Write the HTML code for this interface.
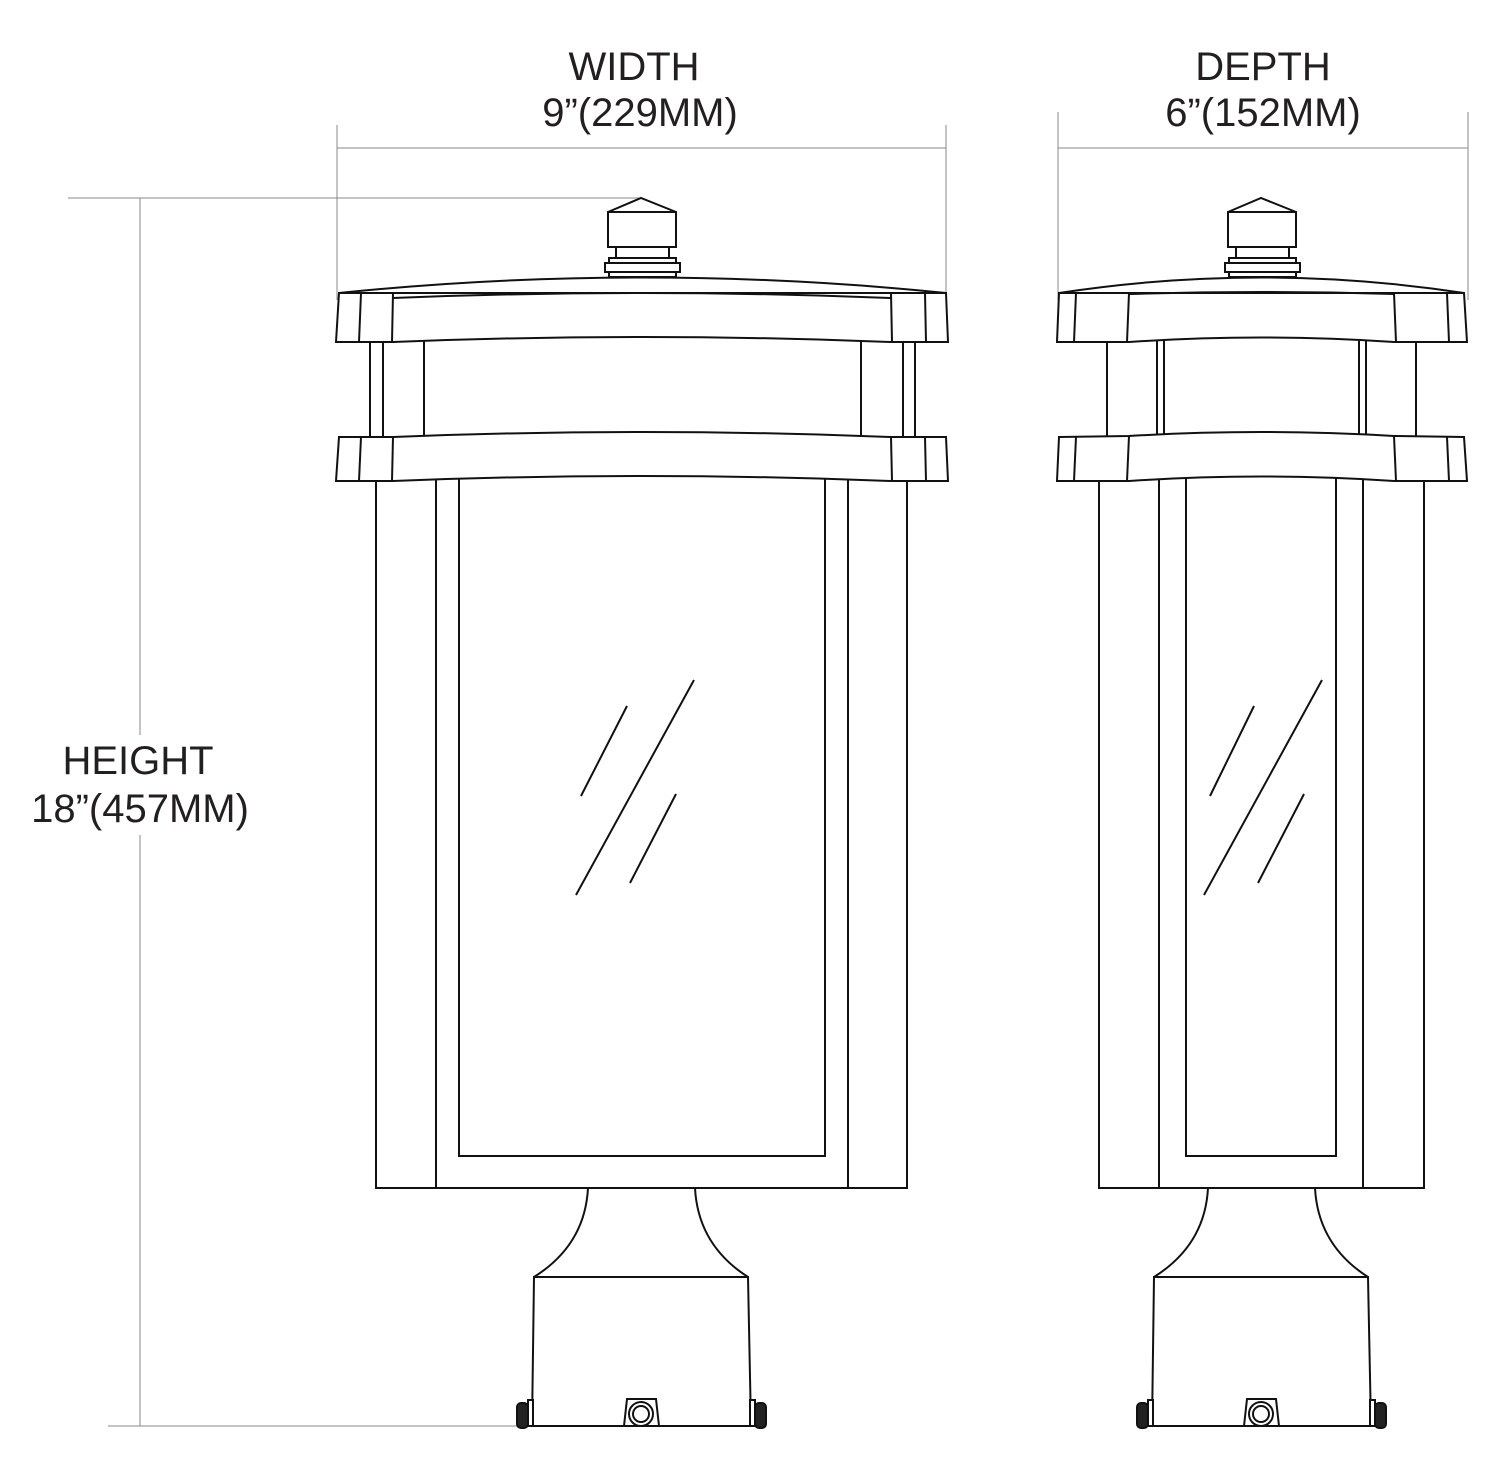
<!DOCTYPE html>
<html><head><meta charset="utf-8"><style>
html,body{margin:0;padding:0;background:#fff;}
svg{display:block;}
text{font-family:"Liberation Sans",sans-serif;font-size:40px;fill:#231f20;text-anchor:middle;}
</style></head><body>
<svg width="1500" height="1480" viewBox="0 0 1500 1480" xmlns="http://www.w3.org/2000/svg">
<defs>
<g id="cap" fill="#fff" stroke="#111" stroke-width="2">
  <path d="M608,212 L641,198 L676,212 Z"/>
  <rect x="608" y="212" width="68" height="35"/>
  <rect x="616" y="247" width="53" height="11"/>
  <rect x="609" y="258" width="67" height="6"/>
  <rect x="605" y="263" width="75" height="9"/>
  <rect x="609" y="272" width="67" height="5"/>
</g>
<g id="base" fill="#fff" stroke="#111" stroke-width="2">
  <path d="M588,1188 Q585,1245 534,1277" fill="none"/>
  <path d="M695,1188 Q698,1245 748,1277" fill="none"/>
  <path d="M534,1277 L748,1277 L751,1426 L532,1426 Z"/>
  <rect x="528" y="1400" width="5" height="26"/>
  <rect x="517" y="1403" width="11" height="25" rx="4" fill="#222"/>
  <rect x="750" y="1400" width="5" height="26"/>
  <rect x="755" y="1403" width="11" height="25" rx="4" fill="#222"/>
  <path d="M627,1399 L656,1399 L659,1426 L624,1426 Z"/>
  <circle cx="641" cy="1414" r="12"/>
  <circle cx="641" cy="1414" r="8"/>
</g>
</defs>

<g stroke="#888" stroke-width="1" fill="none">
  <line x1="337" y1="125" x2="337" y2="300"/>
  <line x1="946" y1="125" x2="946" y2="300"/>
  <line x1="337" y1="148" x2="946" y2="148"/>
  <line x1="1058" y1="112" x2="1058" y2="300"/>
  <line x1="1468" y1="112" x2="1468" y2="300"/>
  <line x1="1058" y1="148" x2="1468" y2="148"/>
  <line x1="68" y1="198" x2="640" y2="198"/>
  <line x1="108" y1="1426" x2="530" y2="1426"/>
  <line x1="140" y1="198" x2="140" y2="735"/>
  <line x1="140" y1="835" x2="140" y2="1426"/>
</g>
<text x="634" y="80">WIDTH</text>
<text x="640" y="126">9”(229MM)</text>
<text x="1263" y="80">DEPTH</text>
<text x="1263" y="126">6”(152MM)</text>
<text x="138" y="774">HEIGHT</text>
<text x="140" y="822">18”(457MM)</text>

<g fill="none" stroke="#111" stroke-width="2">
  <path d="M339,293 Q641,262 946,293"/>
  <path d="M339,293 L946,293 L948,342 L891,342 Q641,332 393,342 L336,342 Z"/>
  <line x1="361" y1="293" x2="359" y2="342"/><line x1="393" y1="293" x2="392" y2="342"/>
  <line x1="891" y1="293" x2="892" y2="342"/><line x1="925" y1="293" x2="926" y2="342"/>
  <path d="M393,298 Q641,288 891,298"/>
  <line x1="370" y1="342" x2="370" y2="437"/><line x1="383" y1="342" x2="383" y2="437"/>
  <line x1="424" y1="341" x2="424" y2="435"/><line x1="861" y1="341" x2="861" y2="435"/>
  <line x1="903" y1="342" x2="903" y2="437"/><line x1="915" y1="342" x2="915" y2="437"/>
  <path d="M339,437 L393,437 Q641,427 891,437 L946,437 L948,481 L891,481 Q641,471 393,481 L336,481 Z"/>
  <line x1="361" y1="437" x2="359" y2="481"/><line x1="393" y1="437" x2="392" y2="481"/>
  <line x1="891" y1="437" x2="892" y2="481"/><line x1="925" y1="437" x2="926" y2="481"/>
  <path d="M376,481 L376,1188 L907,1188 L907,481"/>
  <line x1="436" y1="479" x2="436" y2="1188"/><line x1="848" y1="479" x2="848" y2="1188"/>
  <path d="M459,478 L459,1156 L825,1156 L825,478"/>
  <line x1="627" y1="706" x2="581" y2="796"/>
  <line x1="694" y1="680" x2="576" y2="895"/>
  <line x1="676" y1="794" x2="630" y2="883"/>

  <path d="M1059,293 Q1261,262 1464,293"/>
  <path d="M1059,293 L1464,293 L1467,342 L1394,342 Q1261,333 1129,342 L1057,342 Z"/>
  <line x1="1076" y1="293" x2="1074" y2="342"/><line x1="1129" y1="293" x2="1127" y2="342"/>
  <line x1="1394" y1="293" x2="1396" y2="342"/><line x1="1447" y1="293" x2="1449" y2="342"/>
  <path d="M1129,294 Q1261,290 1394,294"/>
  <line x1="1107" y1="342" x2="1107" y2="437"/><line x1="1157" y1="341" x2="1157" y2="434"/>
  <line x1="1164" y1="341" x2="1164" y2="434"/><line x1="1359" y1="341" x2="1359" y2="434"/>
  <line x1="1366" y1="341" x2="1366" y2="434"/><line x1="1416" y1="342" x2="1416" y2="437"/>
  <path d="M1059,437 L1129,436 Q1261,428 1394,436 L1464,437 L1467,481 L1394,481 Q1261,472 1129,481 L1057,481 Z"/>
  <line x1="1076" y1="437" x2="1074" y2="481"/><line x1="1129" y1="436" x2="1127" y2="481"/>
  <line x1="1394" y1="436" x2="1396" y2="481"/><line x1="1447" y1="437" x2="1449" y2="481"/>
  <path d="M1099,481 L1099,1188 L1424,1188 L1424,481"/>
  <line x1="1159" y1="479" x2="1159" y2="1188"/><line x1="1363" y1="479" x2="1363" y2="1188"/>
  <path d="M1186,478 L1186,1156 L1336,1156 L1336,478"/>
  <line x1="1254" y1="706" x2="1210" y2="796"/>
  <line x1="1322" y1="680" x2="1204" y2="895"/>
  <line x1="1304" y1="794" x2="1258" y2="883"/>
</g>

<use href="#cap"/>
<use href="#cap" transform="translate(620,0)"/>
<use href="#base"/>
<use href="#base" transform="translate(620,0)"/>
</svg>
</body></html>
